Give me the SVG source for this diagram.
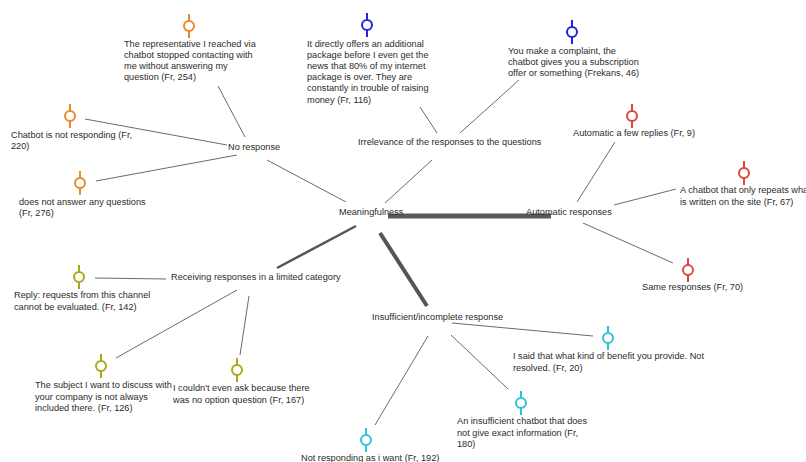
<svg xmlns="http://www.w3.org/2000/svg" width="806" height="462" viewBox="0 0 806 462">
  <defs>
    <style>
      text { font-family: "Liberation Sans", "Open Sans", Arial, sans-serif; font-size: 9.2px; fill: #2b2b2b; }
      .link { stroke: #6b6b6b; stroke-width: 1; fill: none; }
      .strong { stroke: #555555; stroke-width: 2.5; fill: none; }
      .heavy { stroke: #555555; stroke-width: 4; fill: none; }
      .bar { stroke: #5a5a5a; stroke-width: 5; fill: none; }
      .quote { fill: #ffffff; stroke: currentColor; stroke-width: 2; }
      .orange { color: #e8892b; }
      .blue { color: #2323e6; }
      .red { color: #d9483b; }
      .olive { color: #a9a91c; }
      .cyan { color: #2cc3d6; }
    </style>
    <!-- quotation marker: ring on a short vertical stem -->
    <g id="pin">
      <line x1="0" y1="-12" x2="0" y2="12" stroke="currentColor" stroke-width="2"/>
      <circle class="quote" cx="0" cy="0" r="5"/>
    </g>
  </defs>

  <rect x="0" y="0" width="806" height="462" fill="#ffffff"/>

  <!-- connectors -->
  <g id="connectors">
    <line class="link" x1="218" y1="86" x2="245" y2="137"/>
    <line class="link" x1="85" y1="119" x2="227" y2="145"/>
    <line class="link" x1="96" y1="181" x2="237" y2="155"/>
    <line class="link" x1="267" y1="160" x2="346" y2="202"/>
    <line class="link" x1="420" y1="107" x2="437" y2="133"/>
    <line class="link" x1="460" y1="133" x2="519" y2="80"/>
    <line class="link" x1="432" y1="160" x2="385" y2="203"/>
    <line class="bar" x1="388" y1="216" x2="551" y2="216"/>
    <line class="link" x1="615" y1="142" x2="577" y2="202"/>
    <line class="link" x1="614" y1="205" x2="676" y2="189"/>
    <line class="link" x1="583" y1="223" x2="673" y2="263"/>
    <line class="strong" x1="356" y1="226" x2="277" y2="268"/>
    <line class="link" x1="95" y1="278" x2="166" y2="279"/>
    <line class="link" x1="237" y1="290" x2="116" y2="358"/>
    <line class="link" x1="249" y1="296" x2="240" y2="355"/>
    <line class="heavy" x1="380" y1="233" x2="427" y2="306"/>
    <line class="link" x1="452" y1="323" x2="593" y2="336"/>
    <line class="link" x1="451" y1="335" x2="508" y2="389"/>
    <line class="link" x1="428" y1="336" x2="375" y2="425"/>
  </g>

  <!-- themes -->
  <g id="meaningfulness"><text x="339" y="215.3">Meaningfulness</text></g>
  <g id="no-response"><text x="228" y="150.3">No response</text></g>
  <g id="irrelevance"><text x="358" y="145.3">Irrelevance of the responses to the questions</text></g>
  <g id="automatic-responses"><text x="526" y="215.3">Automatic responses</text></g>
  <g id="limited-category"><text x="171" y="280.3">Receiving responses in a limited category</text></g>
  <g id="insufficient"><text x="372" y="320.3">Insufficient/incomplete response</text></g>

  <!-- quotations: no response -->
  <g id="q-254" class="orange">
    <use href="#pin" x="189" y="26"/>
    <text x="124" y="47.3"><tspan x="124">The representative I reached via</tspan><tspan x="124" dy="11">chatbot stopped contacting with</tspan><tspan x="124" dy="11">me without answering my</tspan><tspan x="124" dy="11">question (Fr, 254)</tspan></text>
  </g>
  <g id="q-220" class="orange">
    <use href="#pin" x="70" y="116"/>
    <text x="11" y="138.3"><tspan x="11">Chatbot is not responding (Fr,</tspan><tspan x="11" dy="11">220)</tspan></text>
  </g>
  <g id="q-276" class="orange">
    <use href="#pin" x="80" y="183"/>
    <text x="19" y="205.3"><tspan x="19">does not answer any questions</tspan><tspan x="19" dy="11">(Fr, 276)</tspan></text>
  </g>

  <!-- quotations: irrelevance -->
  <g id="q-116" class="blue">
    <use href="#pin" x="367" y="25"/>
    <text x="307" y="46.5"><tspan x="307">It directly offers an additional</tspan><tspan x="307" dy="11.2">package before I even get the</tspan><tspan x="307" dy="11.2">news that 80% of my internet</tspan><tspan x="307" dy="11.2">package is over. They are</tspan><tspan x="307" dy="11.2">constantly in trouble of raising</tspan><tspan x="307" dy="11.2">money (Fr, 116)</tspan></text>
  </g>
  <g id="q-46" class="blue">
    <use href="#pin" x="572" y="32"/>
    <text x="508" y="53.5"><tspan x="508">You make a complaint, the</tspan><tspan x="508" dy="11.2">chatbot gives you a subscription</tspan><tspan x="508" dy="11.2">offer or something (Frekans, 46)</tspan></text>
  </g>

  <!-- quotations: automatic responses -->
  <g id="q-9" class="red">
    <use href="#pin" x="632" y="116"/>
    <text x="573" y="136.3">Automatic a few replies (Fr, 9)</text>
  </g>
  <g id="q-67" class="red">
    <use href="#pin" x="744" y="173"/>
    <text x="680" y="193.3"><tspan x="680">A chatbot that only repeats what</tspan><tspan x="680" dy="11.2">is written on the site (Fr, 67)</tspan></text>
  </g>
  <g id="q-70" class="red">
    <use href="#pin" x="688" y="270"/>
    <text x="642" y="290.3">Same responses (Fr, 70)</text>
  </g>

  <!-- quotations: limited category -->
  <g id="q-142" class="olive">
    <use href="#pin" x="79" y="277"/>
    <text x="14" y="298.3"><tspan x="14">Reply: requests from this channel</tspan><tspan x="14" dy="11.2">cannot be evaluated. (Fr, 142)</tspan></text>
  </g>
  <g id="q-126" class="olive">
    <use href="#pin" x="101" y="366"/>
    <text x="35" y="388.3"><tspan x="35">The subject I want to discuss with</tspan><tspan x="35" dy="11.2">your company is not always</tspan><tspan x="35" dy="11.2">included there. (Fr, 126)</tspan></text>
  </g>
  <g id="q-167" class="olive">
    <use href="#pin" x="237" y="370"/>
    <text x="173" y="391.3"><tspan x="173">I couldn't even ask because there</tspan><tspan x="173" dy="11.2">was no option question (Fr, 167)</tspan></text>
  </g>

  <!-- quotations: insufficient response -->
  <g id="q-20" class="cyan">
    <use href="#pin" x="608" y="338"/>
    <text x="513" y="359.3"><tspan x="513">I said that what kind of benefit you provide. Not</tspan><tspan x="513" dy="11.2">resolved. (Fr, 20)</tspan></text>
  </g>
  <g id="q-180" class="cyan">
    <use href="#pin" x="521" y="403"/>
    <text x="457" y="424.3"><tspan x="457">An insufficient chatbot that does</tspan><tspan x="457" dy="11.2">not give exact information (Fr,</tspan><tspan x="457" dy="11.2">180)</tspan></text>
  </g>
  <g id="q-192" class="cyan">
    <use href="#pin" x="366" y="440"/>
    <text x="301" y="461.3">Not responding as i want (Fr, 192)</text>
  </g>
</svg>
